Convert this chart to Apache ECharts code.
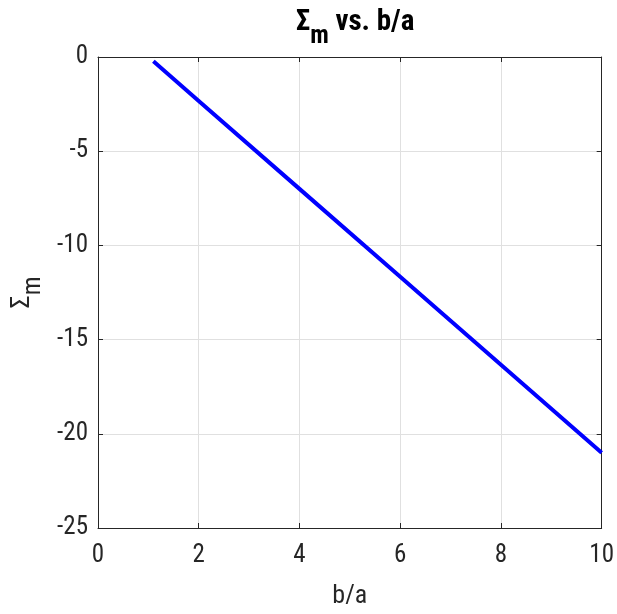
<!DOCTYPE html>
<html><head><meta charset="utf-8">
<script src="https://cdn.jsdelivr.net/npm/echarts@6/dist/echarts.min.js"></script>
<style>html,body{margin:0;padding:0;background:#fff}#c{width:617px;height:614px}</style>
</head><body><div id="c"></div>
<script>
const xValues = [1.1, 2, 4, 6, 8, 10];
const yValues = [-0.23, -2.33, -7.0, -11.67, -16.33, -21.0];
const xTicks = [0, 2, 4, 6, 8, 10];
const yTicks = [-25, -20, -15, -10, -5, 0];

const FONT = '"Liberation Sans Narrow", "Roboto Condensed", "Liberation Sans", sans-serif';
const chart = echarts.init(document.getElementById('c'), null, {renderer: 'canvas'});
const axisCommon = {
  axisLine: {show: true, onZero: false, lineStyle: {color: '#262626', width: 1}},
  axisTick: {show: true, inside: true, length: 5, lineStyle: {color: '#262626'}},
  splitLine: {show: true, lineStyle: {color: '#e0e0e0', width: 1}},
};
chart.setOption({
  animation: false,
  title: {
    text: '{a|Σ}{s|m}{a| vs. b/a}',
    left: 350, top: -9, textAlign: 'center',
    textStyle: {
      rich: {
        a: {fontFamily: FONT, fontSize: 29, fontWeight: 'bold', color: '#000'},
        s: {fontFamily: FONT, fontSize: 25, fontWeight: 'bold', color: '#000', padding: [28, 0, 0, 0]}
      }
    }
  },
  grid: {left: 98, right: 14, top: 57, bottom: 82, containLabel: false},
  xAxis: [{
    type: 'value', min: 0, max: 10, interval: 2, position: 'bottom',
    ...axisCommon,
    axisLabel: {fontFamily: FONT, fontSize: 25, color: '#262626', margin: 15},
    name: 'b/a', nameLocation: 'middle', nameGap: 55,
    nameTextStyle: {fontFamily: FONT, fontSize: 26, color: '#262626'}
  }, {
    type: 'value', min: 0, max: 10, interval: 2, position: 'top',
    axisLine: axisCommon.axisLine, axisTick: axisCommon.axisTick,
    axisLabel: {show: false}, splitLine: {show: false}
  }],
  yAxis: [{
    type: 'value', min: -25, max: 0, interval: 5, position: 'left',
    ...axisCommon,
    axisLabel: {fontFamily: FONT, fontSize: 25, color: '#262626', margin: 10},
    name: '{a|Σ}{s|m}', nameLocation: 'middle', nameGap: 51, nameRotate: 90,
    nameTextStyle: {
      rich: {
        a: {fontFamily: FONT, fontSize: 26, color: '#262626'},
        s: {fontFamily: FONT, fontSize: 25, color: '#262626', padding: [22, 0, 0, 0]}
      }
    }
  }, {
    type: 'value', min: -25, max: 0, interval: 5, position: 'right',
    axisLine: axisCommon.axisLine, axisTick: axisCommon.axisTick,
    axisLabel: {show: false}, splitLine: {show: false}
  }],
  series: [{
    type: 'line', xAxisIndex: 0, yAxisIndex: 0,
    data: xValues.map((x, i) => [x, yValues[i]]),
    showSymbol: false, symbol: 'none',
    lineStyle: {color: '#0000ff', width: 4}
  }]
});
</script></body></html>
